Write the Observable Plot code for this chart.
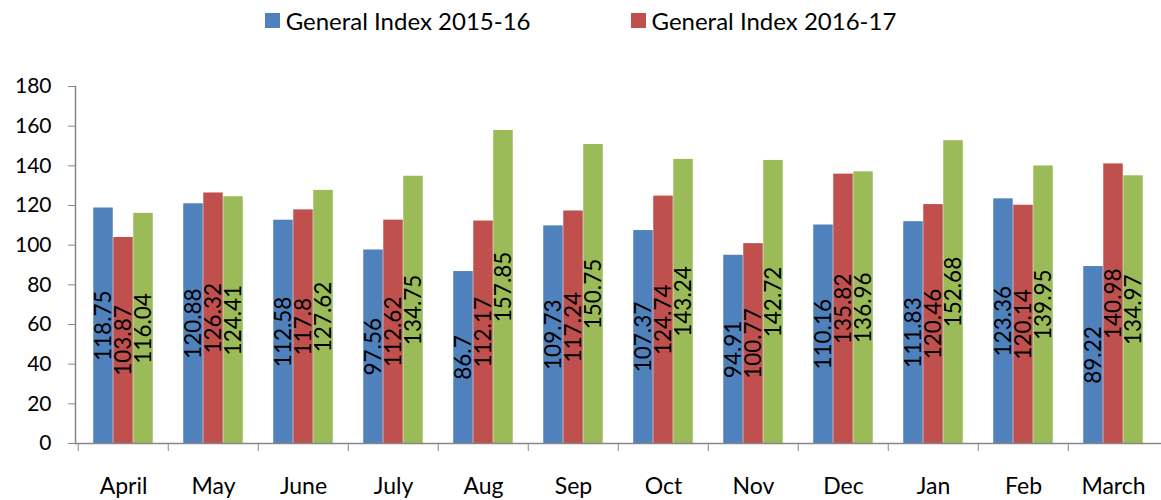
<!DOCTYPE html>
<html>
<head>
<meta charset="utf-8">
<script src="https://cdn.jsdelivr.net/npm/d3@7"></script>
<script src="https://cdn.jsdelivr.net/npm/@observablehq/plot@0.6"></script>
<style>
  html, body { margin: 0; padding: 0; background: #fff; }
  #legend { height: 50px; display: flex; justify-content: center; align-items: flex-start; gap: 100px;
    font-family: Lato, "Liberation Sans", sans-serif; font-size: 24px; color: #000; padding-top: 6px; box-sizing: border-box; }
  .item { display: flex; align-items: center; gap: 6px; }
  .sw { width: 15px; height: 15px; display: inline-block; }
</style>
</head>
<body>
<div id="legend"></div>
<div id="chart"></div>
<script>
const months = ["April","May","June","July","Aug","Sep","Oct","Nov","Dec","Jan","Feb","March"];
const names = ["General Index 2015-16","General Index 2016-17","General Index 2017-18"];
const colors = ["#4F81BD","#C0504D","#9BBB59"];
const idx2015 = [118.75,120.88,112.58,97.56,86.7,109.73,107.37,94.91,110.16,111.83,123.36,89.22];
const idx2016 = [103.87,126.32,117.8,112.62,112.17,117.24,124.74,100.77,135.82,120.46,120.14,140.98];
const idx2017 = [116.04,124.41,127.62,134.75,157.85,150.75,143.24,142.72,136.96,152.68,139.95,134.97];
const yTicks = [0,20,40,60,80,100,120,140,160,180];
const legendShown = [0,1];

const seriesValues = [idx2015, idx2016, idx2017];
const rows = seriesValues.map((vals, i) => vals.map((v, j) => ({month: months[j], value: v, series: names[i], i})));

// legend
const leg = document.getElementById("legend");
legendShown.forEach(i => {
  const it = document.createElement("div"); it.className = "item";
  const sw = document.createElement("span"); sw.className = "sw"; sw.style.background = colors[i];
  const tx = document.createElement("span"); tx.textContent = names[i];
  it.appendChild(sw); it.appendChild(tx); leg.appendChild(it);
});

const W = 1161, H = 450, ML = 75, MR = 0, MT = 36, MB = 57;
const step = (W - ML - MR) / months.length;
const bw = step * 0.221;
const off0 = (step - 3 * bw) / 2;
const gray = "#868686";

const marks = [];
rows.forEach((data, i) => {
  marks.push(Plot.barY(data, {
    x: "month", y: "value", fill: colors[i],
    insetLeft: off0 + bw * i, insetRight: step - off0 - bw * (i + 1)
  }));
});
rows.forEach((data, i) => {
  marks.push(Plot.text(data, {
    x: "month", y: d => d.value / 2, text: d => String(d.value),
    rotate: -90, dx: bw * (i - 1), fontSize: 22.5, fill: "black", textAnchor: "middle"
  }));
});
marks.push(Plot.axisY({ticks: yTicks, tickSize: 7, tickPadding: 17, fontSize: 21, stroke: gray, label: null}));
marks.push(Plot.axisX({tickSize: 8, tickFormat: () => "", dx: -step / 2, stroke: gray, label: null}));
marks.push(Plot.axisX({tickSize: 0, tickPadding: 34, fontSize: 23, label: null}));
marks.push(Plot.frame({anchor: "left", stroke: gray, strokeWidth: 1.5}));
marks.push(Plot.frame({anchor: "bottom", stroke: gray, strokeWidth: 1.5}));

const chart = Plot.plot({
  width: W, height: H,
  marginLeft: ML, marginRight: MR, marginTop: MT, marginBottom: MB,
  style: {fontFamily: "Lato, 'Liberation Sans', sans-serif", fontSize: "21px", color: "black", background: "white"},
  x: {domain: months, padding: 0, label: null},
  y: {domain: [0, 180], label: null},
  marks
});
document.getElementById("chart").appendChild(chart);
</script>
</body>
</html>
